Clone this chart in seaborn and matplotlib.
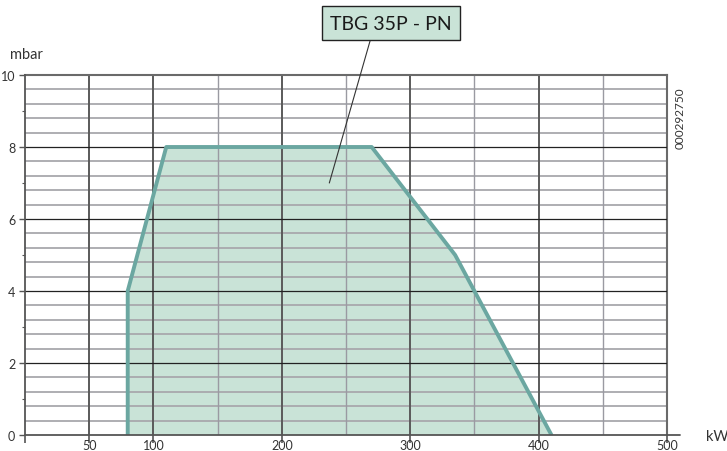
import matplotlib
matplotlib.use('Agg')
import matplotlib.pyplot as plt
import seaborn as sns
import numpy as np
from matplotlib.ticker import FixedLocator, NullFormatter

# Working field of the burner (kW vs mbar)
field_kw = [80, 80, 110, 270, 335, 410]
field_mbar = [0, 4, 8, 8, 5, 0]

x_ticks = [0, 50, 100, 200, 300, 400, 500]
x_tick_labels = ['', '50', '100', '200', '300', '400', '500']
x_light_grid = [150, 250, 350, 450]
y_ticks = [0, 2, 4, 6, 8, 10]
y_small_ticks = [1, 3, 5, 7, 9]

model_name = 'TBG 35P - PN'
drawing_code = '000292750'
label_anchor = (237, 7.0)

fill_color = '#c9e3d7'
edge_color = '#6ba7a1'

sns.set_theme(style='white')
plt.rcParams['font.family'] = ['Lato', 'DejaVu Sans']

fig = plt.figure(figsize=(7.27, 4.52), dpi=100)
W, H = 727, 452
ax = fig.add_axes([25 / W, 1 - 436 / H, 642 / W, 360 / H])

# Area first, grid above it, outline on top
ax.fill(field_kw, field_mbar, color=fill_color, zorder=1, lw=0)
sns.lineplot(x=field_kw, y=field_mbar, sort=False, color=edge_color,
             lw=2.8, ax=ax, zorder=4, estimator=None)

ax.set_xlim(0, 500)
ax.set_ylim(0, 10)

ax.xaxis.set_major_locator(FixedLocator(x_ticks))
ax.set_xticklabels(x_tick_labels)
ax.xaxis.set_minor_locator(FixedLocator(x_light_grid))
ax.xaxis.set_minor_formatter(NullFormatter())
ax.yaxis.set_major_locator(FixedLocator(y_ticks))
ax.yaxis.set_minor_locator(FixedLocator(y_small_ticks))

ax.grid(False)
for xv in x_ticks[1:-1]:
    ax.axvline(xv, color='#5a5a5a', lw=1.4, zorder=2.5)
for xv in x_light_grid:
    ax.axvline(xv, color='#9a9aa2', lw=1.0, zorder=2.4)
minor_rows = [v for v in np.arange(0.4, 10, 0.4) if abs(v / 2 - round(v / 2)) > 0.01]
for yv in minor_rows:
    ax.axhline(yv, color='#a8a8ac', lw=1.3, zorder=2.3)
for yv in y_ticks[1:-1]:
    ax.axhline(yv, color='#222222', lw=0.9, zorder=2.6)

for s in ['top', 'right']:
    ax.spines[s].set_color('#6a6a6a')
    ax.spines[s].set_linewidth(1.5)
for s in ['left', 'bottom']:
    ax.spines[s].set_color('#555555')
    ax.spines[s].set_linewidth(1.3)
    ax.spines[s].set_zorder(5)

ax.tick_params(axis='x', which='major', direction='out', length=6, width=1.2,
               color='#555555', pad=-3, labelsize=9, labelcolor='#333333', bottom=True)
ax.tick_params(axis='x', which='minor', length=0)
ax.tick_params(axis='y', which='major', direction='out', length=4, width=1.0,
               color='#555555', pad=3, labelsize=9, labelcolor='#333333', left=True)
ax.tick_params(axis='y', which='minor', direction='out', length=2, width=0.8,
               color='#555555', left=True)

# bottom axis runs a little past the frame
ax.plot([1, 1.02], [0, 0], transform=ax.transAxes, color='#555555', lw=1.3,
        clip_on=False, zorder=5)

fig.text(10 / W, 1 - 55 / H, 'mbar', fontsize=10.5, color='#333333', va='center', ha='left')
fig.text(706 / W, 1 - 437 / H, 'kW', fontsize=10.5, color='#333333', va='center', ha='left')
fig.text(680 / W, 1 - 118 / H, drawing_code, fontsize=8.5, color='#333333',
         rotation=90, va='center', ha='center')

ax.annotate(model_name, xy=label_anchor, xycoords='data',
            xytext=(391 / W, 1 - 24 / H), textcoords='figure fraction',
            ha='center', va='center', fontsize=14, color='#1a1a1a',
            bbox=dict(boxstyle='square,pad=0.42', fc=fill_color, ec='#222222', lw=1.0),
            arrowprops=dict(arrowstyle='-', color='#333333', lw=0.8,
                            relpos=(0.35, 0), shrinkA=0, shrinkB=0),
            zorder=6)

fig.savefig('out.png', dpi=100)
